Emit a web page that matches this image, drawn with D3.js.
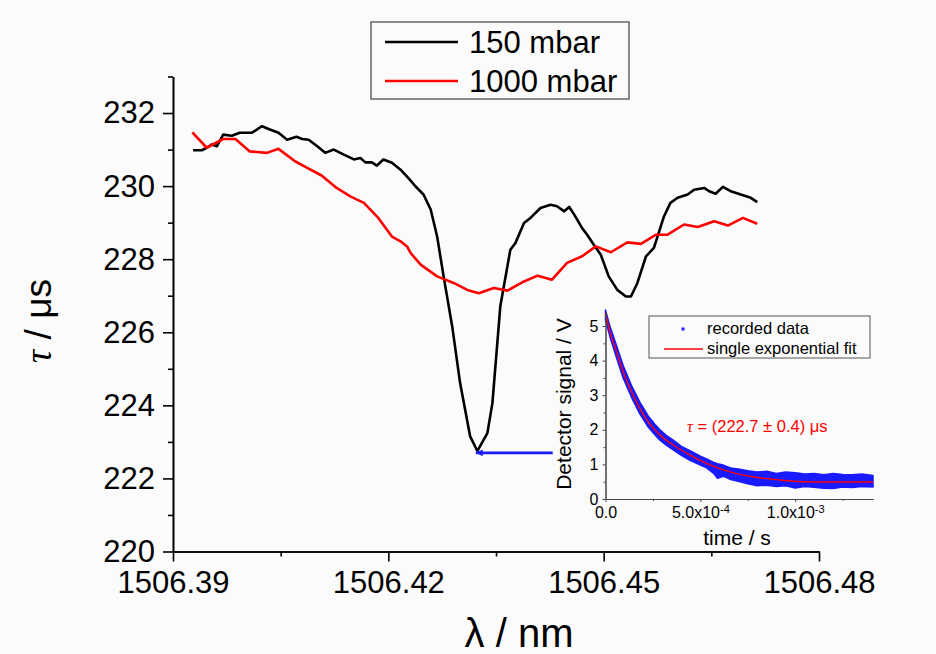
<!DOCTYPE html>
<html>
<head>
<meta charset="utf-8">
<script src="https://cdn.jsdelivr.net/npm/d3@7"></script>
<style>
  body { margin: 0; background: #fbfbfb; }
  svg { display: block; }
</style>
</head>
<body>
<div class="chart"></div>
<script>
// Cavity ring-down: tau vs wavelength at two pressures, with decay trace inset

// ---- main data ----
var lambda150 = [1506.3928, 1506.3940, 1506.3947, 1506.3954, 1506.3961, 1506.3970, 1506.3982, 1506.3993, 1506.4010,
  1506.4024, 1506.4035, 1506.4047, 1506.4059, 1506.4072, 1506.4080, 1506.4089, 1506.4101, 1506.4112, 1506.4124,
  1506.4138, 1506.4152, 1506.4161, 1506.4168, 1506.4177, 1506.4184, 1506.4193, 1506.4205, 1506.4217, 1506.4228,
  1506.4238, 1506.4249, 1506.4259, 1506.4268, 1506.4277, 1506.4289, 1506.4300, 1506.4314, 1506.4324, 1506.4338,
  1506.4345, 1506.4356, 1506.4370, 1506.4377, 1506.4389, 1506.4398, 1506.4412, 1506.4426, 1506.4435, 1506.4445,
  1506.4452, 1506.4459, 1506.4470, 1506.4477, 1506.4486, 1506.4496, 1506.4507, 1506.4519, 1506.4531, 1506.4538,
  1506.4547, 1506.4559, 1506.4570, 1506.4584, 1506.4593, 1506.4603, 1506.4617, 1506.4626, 1506.4640, 1506.4647,
  1506.4656, 1506.4666, 1506.4677, 1506.4691, 1506.4705, 1506.4714];
var tau150 = [230.98, 230.98, 231.05, 231.14, 231.09, 231.41, 231.38, 231.46, 231.46,
  231.64, 231.55, 231.46, 231.27, 231.35, 231.29, 231.27, 231.09, 230.91, 231.00,
  230.86, 230.73, 230.77, 230.65, 230.65, 230.56, 230.73, 230.64, 230.45, 230.22,
  229.99, 229.77, 229.36, 228.62, 227.53, 226.16, 224.61, 223.15, 222.75, 223.24,
  224.06, 226.71, 228.26, 228.44, 228.99, 229.13, 229.40, 229.49, 229.45, 229.31,
  229.43, 229.22, 228.85, 228.67, 228.40, 228.12, 227.53, 227.16, 226.98, 226.98,
  227.35, 228.08, 228.31, 229.17, 229.54, 229.68, 229.77, 229.90, 229.95, 229.86,
  229.79, 229.98, 229.86, 229.77, 229.68, 229.56];

var lambda1000 = [1506.3927, 1506.3947, 1506.3970, 1506.3987, 1506.4007, 1506.4031, 1506.4047, 1506.4070, 1506.4087,
  1506.4107, 1506.4128, 1506.4147, 1506.4166, 1506.4186, 1506.4205, 1506.4217, 1506.4226, 1506.4231, 1506.4245,
  1506.4268, 1506.4291, 1506.4310, 1506.4326, 1506.4347, 1506.4366, 1506.4389, 1506.4408, 1506.4428, 1506.4449,
  1506.4470, 1506.4489, 1506.4510, 1506.4533, 1506.4552, 1506.4573, 1506.4589, 1506.4612, 1506.4631, 1506.4654,
  1506.4673, 1506.4694, 1506.4714];
var tau1000 = [231.47, 231.05, 231.29, 231.29, 230.95, 230.91, 231.02, 230.68, 230.50,
  230.29, 229.95, 229.72, 229.54, 229.13, 228.62, 228.49, 228.35, 228.17, 227.85,
  227.53, 227.35, 227.16, 227.07, 227.21, 227.14, 227.39, 227.55, 227.44, 227.90,
  228.08, 228.35, 228.19, 228.46, 228.42, 228.67, 228.67, 228.95, 228.88, 229.04,
  228.92, 229.13, 228.97];

var seriesNames = ["150 mbar", "1000 mbar"];
var seriesColors = ["#000000", "#ff0000"];

var xMajorTicks = [1506.39, 1506.42, 1506.45, 1506.48];
var xMinorTicks = [1506.405, 1506.435, 1506.465];
var yMajorTicks = [220, 222, 224, 226, 228, 230, 232];
var yMinorTicks = [221, 223, 225, 227, 229, 231, 233];

// arrow from the inset trace to the 150 mbar minimum [lambda, tau]
var arrowTip = [1506.4322, 222.7];
var arrowTail = [1506.4429, 222.7];

// ---- inset data (decay trace) ----
var fitTime = [0, 2.3e-5, 5.8e-5, 9.3e-5, 1.37e-4, 1.81e-4, 2.25e-4, 2.87e-4, 3.57e-4, 4.45e-4,
  5.33e-4, 6.21e-4, 7.09e-4, 8.0e-4, 9.0e-4, 1.03e-3, 1.2e-3, 1.41e-3];
var fitSignal = [5.38, 4.84, 4.26, 3.68, 3.10, 2.62, 2.23, 1.85, 1.56, 1.27,
  1.03, 0.84, 0.71, 0.62, 0.56, 0.50, 0.49, 0.49];

// upper / lower edge of the recorded-data cloud
var bandTime = [0, 2.3e-5, 5.8e-5, 9.3e-5, 1.37e-4, 1.81e-4, 2.25e-4, 2.6e-4, 2.87e-4, 3.2e-4, 3.57e-4,
  4.0e-4, 4.45e-4, 5.0e-4, 5.33e-4, 5.7e-4, 5.9e-4, 6.21e-4, 6.6e-4, 7.09e-4, 7.5e-4, 8.0e-4, 8.5e-4,
  9.0e-4, 9.5e-4, 1.0e-3, 1.05e-3, 1.1e-3, 1.15e-3, 1.2e-3, 1.25e-3, 1.3e-3, 1.35e-3, 1.41e-3];
var bandUpper = [5.46, 5.00, 4.44, 3.86, 3.28, 2.80, 2.40, 2.16, 2.00, 1.84, 1.70,
  1.52, 1.40, 1.24, 1.16, 1.06, 1.02, 0.98, 0.90, 0.86, 0.82, 0.78, 0.80,
  0.74, 0.78, 0.76, 0.72, 0.74, 0.70, 0.74, 0.71, 0.70, 0.72, 0.68];
var bandLower = [5.18, 4.70, 4.08, 3.50, 2.94, 2.46, 2.08, 1.86, 1.70, 1.56, 1.42,
  1.26, 1.12, 0.98, 0.90, 0.74, 0.60, 0.66, 0.56, 0.50, 0.44, 0.38, 0.40,
  0.36, 0.38, 0.32, 0.36, 0.34, 0.31, 0.30, 0.35, 0.33, 0.36, 0.35];

var insetXTicks = [0, 5e-4, 1e-3];
var insetXMinor = [2.5e-4, 7.5e-4, 1.25e-3];
var insetYTicks = [0, 1, 2, 3, 4, 5];
var insetYMinor = [0.5, 1.5, 2.5, 3.5, 4.5];
var insetNames = ["recorded data", "single exponential fit"];

// ---- svg ----
var svg_width = 936;
var svg_height = 654;
var sans = "'Liberation Sans', Arial, sans-serif";
var serif = "'Liberation Serif', 'Times New Roman', serif";

var svg = d3.select(".chart").append("svg")
  .attr("width", svg_width)
  .attr("height", svg_height);

svg.append("rect")
  .attr("width", svg_width)
  .attr("height", svg_height)
  .attr("fill", "#fbfbfb");

var x = d3.scaleLinear().domain([1506.39, 1506.48]).range([173, 819]);
var y = d3.scaleLinear().domain([220, 233]).range([551.5, 76.5]);

// axes
function styleAxis(g, size) {
  g.select(".domain").attr("stroke", "#000").attr("stroke-width", 1.6);
  g.selectAll(".tick line").attr("stroke", "#000").attr("stroke-width", 1.6);
  g.selectAll("text").attr("font-family", sans).attr("font-size", size).attr("fill", "#000");
}

var xAxis = svg.append("g")
  .attr("transform", "translate(0," + y(220) + ")")
  .call(d3.axisBottom(x).tickValues(xMajorTicks).tickSize(10).tickSizeOuter(0).tickPadding(9)
    .tickFormat(d3.format(".2f")));
styleAxis(xAxis, "31px");

var xMinor = svg.append("g")
  .attr("transform", "translate(0," + y(220) + ")")
  .call(d3.axisBottom(x).tickValues(xMinorTicks).tickSize(5).tickSizeOuter(0).tickFormat(""));
styleAxis(xMinor, "0px");

var yAxis = svg.append("g")
  .attr("transform", "translate(" + x(1506.39) + ",0)")
  .call(d3.axisLeft(y).tickValues(yMajorTicks).tickSize(10).tickSizeOuter(0).tickPadding(8)
    .tickFormat(d3.format("d")));
styleAxis(yAxis, "31px");

var yMinor = svg.append("g")
  .attr("transform", "translate(" + x(1506.39) + ",0)")
  .call(d3.axisLeft(y).tickValues(yMinorTicks).tickSize(5).tickSizeOuter(0).tickFormat(""));
styleAxis(yMinor, "0px");

// axis titles
svg.append("text")
  .attr("x", 519)
  .attr("y", 647)
  .attr("text-anchor", "middle")
  .attr("font-family", sans)
  .attr("font-size", "40px")
  .text("λ / nm");

var yTitle = svg.append("text")
  .attr("transform", "translate(51,321) rotate(-90)")
  .attr("text-anchor", "middle")
  .attr("font-family", sans)
  .attr("font-size", "37px");
yTitle.append("tspan").attr("font-family", serif).attr("font-style", "italic").text("τ");
yTitle.append("tspan").text(" / μs");

// lines
var line = d3.line()
  .x(function(d) { return x(d[0]); })
  .y(function(d) { return y(d[1]); });

var mainSeries = [d3.zip(lambda150, tau150), d3.zip(lambda1000, tau1000)];

svg.selectAll("path.series")
  .data(mainSeries)
  .enter()
  .append("path")
  .attr("class", "series")
  .attr("d", line)
  .attr("fill", "none")
  .attr("stroke", function(d, i) { return seriesColors[i]; })
  .attr("stroke-width", 2.6)
  .attr("stroke-linejoin", "round");

// legend
var legend = svg.append("g");
legend.append("rect")
  .attr("x", 371)
  .attr("y", 22)
  .attr("width", 258)
  .attr("height", 77)
  .attr("fill", "none")
  .attr("stroke", "#666")
  .attr("stroke-width", 1.5);

legend.selectAll("line")
  .data(seriesNames)
  .enter()
  .append("line")
  .attr("x1", 385)
  .attr("x2", 458)
  .attr("y1", function(d, i) { return 42 + i * 39; })
  .attr("y2", function(d, i) { return 42 + i * 39; })
  .attr("stroke", function(d, i) { return seriesColors[i]; })
  .attr("stroke-width", 2.6);

legend.selectAll("text")
  .data(seriesNames)
  .enter()
  .append("text")
  .attr("x", 469)
  .attr("y", function(d, i) { return 53 + i * 39; })
  .attr("font-family", sans)
  .attr("font-size", "31px")
  .text(function(d) { return d; });

// arrow
var blue = "#1a1aff";
svg.append("defs").append("marker")
  .attr("id", "head")
  .attr("viewBox", "0 0 10 10")
  .attr("refX", 10)
  .attr("refY", 5)
  .attr("markerWidth", 5)
  .attr("markerHeight", 2.6)
  .attr("markerUnits", "strokeWidth")
  .attr("orient", "auto")
  .append("path")
  .attr("d", "M0,0L10,5L0,10Z")
  .attr("fill", blue);

svg.append("line")
  .attr("x1", x(arrowTail[0]))
  .attr("y1", y(arrowTail[1]))
  .attr("x2", x(arrowTip[0]))
  .attr("y2", y(arrowTip[1]))
  .attr("stroke", blue)
  .attr("stroke-width", 2.6)
  .attr("marker-end", "url(#head)");

// ---- inset ----
var ix = d3.scaleLinear().domain([0, 1.41e-3]).range([605.5, 873]);
var iy = d3.scaleLinear().domain([0, 5.4]).range([499, 312.2]);
var inset = svg.append("g");

var band = d3.area()
  .x(function(d) { return ix(d[0]); })
  .y0(function(d) { return iy(d[2]); })
  .y1(function(d) { return iy(d[1]); });

inset.append("path")
  .datum(d3.zip(bandTime, bandUpper, bandLower))
  .attr("d", band)
  .attr("fill", blue)
  .attr("stroke", blue)
  .attr("stroke-width", 1.5)
  .attr("stroke-linejoin", "round");

inset.append("path")
  .datum(d3.zip(fitTime, fitSignal))
  .attr("d", d3.line().curve(d3.curveMonotoneX)
    .x(function(d) { return ix(d[0]); })
    .y(function(d) { return iy(d[1]); }))
  .attr("fill", "none")
  .attr("stroke", "#ff0000")
  .attr("stroke-width", 1.4);

function styleInset(g) {
  g.select(".domain").attr("stroke", "#444").attr("stroke-width", 1);
  g.selectAll(".tick line").attr("stroke", "#444").attr("stroke-width", 1);
  g.selectAll("text").attr("font-family", sans).attr("font-size", "16px").attr("fill", "#000");
}

var ixAxis = inset.append("g")
  .attr("transform", "translate(0," + iy(0) + ")")
  .call(d3.axisBottom(ix).tickValues(insetXTicks).tickSize(3).tickSizeOuter(0).tickPadding(5));
styleInset(ixAxis);
ixAxis.selectAll("text").each(function(d) {
  var t = d3.select(this).text(null);
  if (d === 0) { t.text("0.0"); return; }
  var e = Math.floor(Math.log10(d));
  var m = d / Math.pow(10, e);
  t.append("tspan").text(m.toFixed(1) + "x10");
  t.append("tspan").attr("dy", "-0.45em").attr("font-size", "11px").text(e);
});

var ixMinor = inset.append("g")
  .attr("transform", "translate(0," + iy(0) + ")")
  .call(d3.axisBottom(ix).tickValues(insetXMinor).tickSize(2).tickSizeOuter(0).tickFormat(""));
styleInset(ixMinor);

var iyAxis = inset.append("g")
  .attr("transform", "translate(" + ix(0) + ",0)")
  .call(d3.axisLeft(iy).tickValues(insetYTicks).tickSize(3).tickSizeOuter(0).tickPadding(4)
    .tickFormat(d3.format("d")));
styleInset(iyAxis);

var iyMinor = inset.append("g")
  .attr("transform", "translate(" + ix(0) + ",0)")
  .call(d3.axisLeft(iy).tickValues(insetYMinor).tickSize(2).tickSizeOuter(0).tickFormat(""));
styleInset(iyMinor);

inset.append("text")
  .attr("x", 737)
  .attr("y", 545)
  .attr("text-anchor", "middle")
  .attr("font-family", sans)
  .attr("font-size", "21px")
  .text("time / s");

inset.append("text")
  .attr("transform", "translate(571,404) rotate(-90)")
  .attr("text-anchor", "middle")
  .attr("font-family", sans)
  .attr("font-size", "21px")
  .text("Detector signal / V");

// inset legend
inset.append("rect")
  .attr("x", 649)
  .attr("y", 316)
  .attr("width", 221)
  .attr("height", 42)
  .attr("fill", "none")
  .attr("stroke", "#555")
  .attr("stroke-width", 1);

inset.append("rect")
  .attr("x", 681.5)
  .attr("y", 327.5)
  .attr("width", 3)
  .attr("height", 3)
  .attr("fill", blue);

inset.append("line")
  .attr("x1", 664)
  .attr("x2", 703)
  .attr("y1", 349)
  .attr("y2", 349)
  .attr("stroke", "#ff0000")
  .attr("stroke-width", 1.3);

inset.selectAll("text.leg")
  .data(insetNames)
  .enter()
  .append("text")
  .attr("class", "leg")
  .attr("x", 707)
  .attr("y", function(d, i) { return 334 + i * 20; })
  .attr("font-family", sans)
  .attr("font-size", "16.5px")
  .text(function(d) { return d; });

// fitted lifetime
var note = inset.append("text")
  .attr("x", 687)
  .attr("y", 432)
  .attr("font-family", sans)
  .attr("font-size", "16.5px")
  .attr("fill", "#ff0000");
note.append("tspan").attr("font-family", serif).attr("font-style", "italic").text("τ");
note.append("tspan").text(" = (222.7 ± 0.4) μs");
</script>
</body>
</html>
